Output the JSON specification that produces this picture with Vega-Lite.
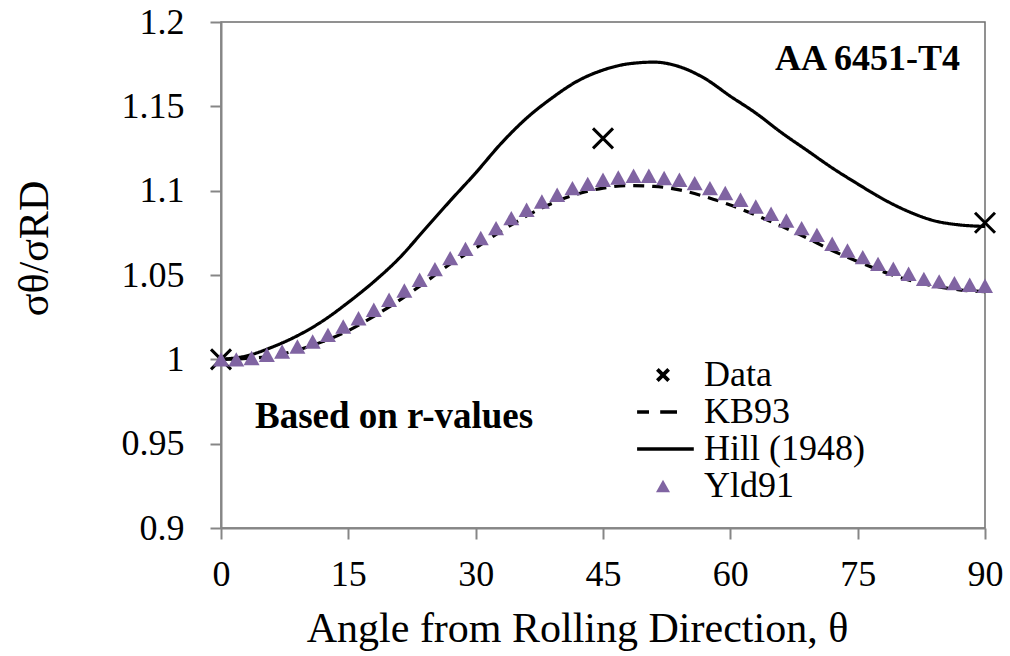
{
  "$schema": "https://vega.github.io/schema/vega-lite/v6.json",
  "width": 764,
  "height": 506,
  "autosize": "none",
  "padding": {"left": 221, "top": 22, "right": 25, "bottom": 128},
  "background": "white",
  "config": {
    "font": "Liberation Serif",
    "view": {"stroke": "#6e6e6e", "strokeWidth": 1.5},
    "axis": {
      "grid": false,
      "domainColor": "#868686",
      "domainWidth": 2,
      "tickColor": "#868686",
      "tickWidth": 2,
      "tickSize": 11,
      "labelFont": "Liberation Serif",
      "labelFontSize": 36,
      "labelColor": "#000000",
      "labelFlush": false,
      "labelOverlap": false,
      "titleFont": "Liberation Serif",
      "titleFontSize": 42,
      "titleFontWeight": "normal",
      "titleColor": "#000000"
    },
    "legend": {"labelFont": "Liberation Serif"}
  },
  "data": {
    "values": [
      {"series": "Data", "angle": 0, "ratio": 1.0},
      {"series": "Data", "angle": 45, "ratio": 1.131},
      {"series": "Data", "angle": 90, "ratio": 1.081},

      {"series": "Hill (1948)", "angle": 0, "ratio": 1.0},
      {"series": "Hill (1948)", "angle": 3, "ratio": 1.002},
      {"series": "Hill (1948)", "angle": 6, "ratio": 1.0072},
      {"series": "Hill (1948)", "angle": 9, "ratio": 1.014},
      {"series": "Hill (1948)", "angle": 12, "ratio": 1.0228},
      {"series": "Hill (1948)", "angle": 15, "ratio": 1.0338},
      {"series": "Hill (1948)", "angle": 18, "ratio": 1.046},
      {"series": "Hill (1948)", "angle": 21, "ratio": 1.06},
      {"series": "Hill (1948)", "angle": 24, "ratio": 1.077},
      {"series": "Hill (1948)", "angle": 27, "ratio": 1.094},
      {"series": "Hill (1948)", "angle": 30, "ratio": 1.1105},
      {"series": "Hill (1948)", "angle": 33, "ratio": 1.128},
      {"series": "Hill (1948)", "angle": 36, "ratio": 1.143},
      {"series": "Hill (1948)", "angle": 39, "ratio": 1.155},
      {"series": "Hill (1948)", "angle": 42, "ratio": 1.165},
      {"series": "Hill (1948)", "angle": 45, "ratio": 1.1715},
      {"series": "Hill (1948)", "angle": 48, "ratio": 1.1752},
      {"series": "Hill (1948)", "angle": 51, "ratio": 1.1762},
      {"series": "Hill (1948)", "angle": 54, "ratio": 1.1735},
      {"series": "Hill (1948)", "angle": 57, "ratio": 1.1665},
      {"series": "Hill (1948)", "angle": 60, "ratio": 1.156},
      {"series": "Hill (1948)", "angle": 63, "ratio": 1.146},
      {"series": "Hill (1948)", "angle": 66, "ratio": 1.1345},
      {"series": "Hill (1948)", "angle": 69, "ratio": 1.124},
      {"series": "Hill (1948)", "angle": 72, "ratio": 1.1135},
      {"series": "Hill (1948)", "angle": 75, "ratio": 1.104},
      {"series": "Hill (1948)", "angle": 78, "ratio": 1.095},
      {"series": "Hill (1948)", "angle": 81, "ratio": 1.0876},
      {"series": "Hill (1948)", "angle": 84, "ratio": 1.0822},
      {"series": "Hill (1948)", "angle": 87, "ratio": 1.0797},
      {"series": "Hill (1948)", "angle": 90, "ratio": 1.0788},

      {"series": "KB93", "angle": 0, "ratio": 1.0},
      {"series": "KB93", "angle": 3, "ratio": 1.0005},
      {"series": "KB93", "angle": 6, "ratio": 1.002},
      {"series": "KB93", "angle": 9, "ratio": 1.0055},
      {"series": "KB93", "angle": 12, "ratio": 1.0105},
      {"series": "KB93", "angle": 15, "ratio": 1.017},
      {"series": "KB93", "angle": 18, "ratio": 1.0255},
      {"series": "KB93", "angle": 21, "ratio": 1.035},
      {"series": "KB93", "angle": 24, "ratio": 1.0455},
      {"series": "KB93", "angle": 27, "ratio": 1.0565},
      {"series": "KB93", "angle": 30, "ratio": 1.066},
      {"series": "KB93", "angle": 33, "ratio": 1.076},
      {"series": "KB93", "angle": 36, "ratio": 1.085},
      {"series": "KB93", "angle": 39, "ratio": 1.0925},
      {"series": "KB93", "angle": 42, "ratio": 1.098},
      {"series": "KB93", "angle": 45, "ratio": 1.1015},
      {"series": "KB93", "angle": 48, "ratio": 1.103},
      {"series": "KB93", "angle": 51, "ratio": 1.1025},
      {"series": "KB93", "angle": 54, "ratio": 1.1005},
      {"series": "KB93", "angle": 57, "ratio": 1.0965},
      {"series": "KB93", "angle": 60, "ratio": 1.0915},
      {"series": "KB93", "angle": 63, "ratio": 1.0855},
      {"series": "KB93", "angle": 66, "ratio": 1.079},
      {"series": "KB93", "angle": 69, "ratio": 1.072},
      {"series": "KB93", "angle": 72, "ratio": 1.0645},
      {"series": "KB93", "angle": 75, "ratio": 1.058},
      {"series": "KB93", "angle": 78, "ratio": 1.052},
      {"series": "KB93", "angle": 81, "ratio": 1.047},
      {"series": "KB93", "angle": 84, "ratio": 1.0435},
      {"series": "KB93", "angle": 87, "ratio": 1.0412},
      {"series": "KB93", "angle": 90, "ratio": 1.0402},

      {"series": "Yld91", "angle": 0, "ratio": 1.0},
      {"series": "Yld91", "angle": 1.8, "ratio": 1.0},
      {"series": "Yld91", "angle": 3.6, "ratio": 1.0008},
      {"series": "Yld91", "angle": 5.4, "ratio": 1.0027},
      {"series": "Yld91", "angle": 7.2, "ratio": 1.0046},
      {"series": "Yld91", "angle": 9.0, "ratio": 1.0076},
      {"series": "Yld91", "angle": 10.8, "ratio": 1.0106},
      {"series": "Yld91", "angle": 12.6, "ratio": 1.0145},
      {"series": "Yld91", "angle": 14.4, "ratio": 1.0195},
      {"series": "Yld91", "angle": 16.2, "ratio": 1.0244},
      {"series": "Yld91", "angle": 18.0, "ratio": 1.0294},
      {"series": "Yld91", "angle": 19.8, "ratio": 1.0353},
      {"series": "Yld91", "angle": 21.6, "ratio": 1.0408},
      {"series": "Yld91", "angle": 23.4, "ratio": 1.0472},
      {"series": "Yld91", "angle": 25.2, "ratio": 1.0535},
      {"series": "Yld91", "angle": 27.0, "ratio": 1.06},
      {"series": "Yld91", "angle": 28.8, "ratio": 1.0655},
      {"series": "Yld91", "angle": 30.6, "ratio": 1.0719},
      {"series": "Yld91", "angle": 32.4, "ratio": 1.0778},
      {"series": "Yld91", "angle": 34.2, "ratio": 1.0837},
      {"series": "Yld91", "angle": 36.0, "ratio": 1.0887},
      {"series": "Yld91", "angle": 37.8, "ratio": 1.0936},
      {"series": "Yld91", "angle": 39.6, "ratio": 1.0976},
      {"series": "Yld91", "angle": 41.4, "ratio": 1.1015},
      {"series": "Yld91", "angle": 43.2, "ratio": 1.104},
      {"series": "Yld91", "angle": 45.0, "ratio": 1.1065},
      {"series": "Yld91", "angle": 46.8, "ratio": 1.1078},
      {"series": "Yld91", "angle": 48.6, "ratio": 1.1088},
      {"series": "Yld91", "angle": 50.4, "ratio": 1.1088},
      {"series": "Yld91", "angle": 52.2, "ratio": 1.1075},
      {"series": "Yld91", "angle": 54.0, "ratio": 1.1065},
      {"series": "Yld91", "angle": 55.8, "ratio": 1.1045},
      {"series": "Yld91", "angle": 57.6, "ratio": 1.1015},
      {"series": "Yld91", "angle": 59.4, "ratio": 1.0986},
      {"series": "Yld91", "angle": 61.2, "ratio": 1.0946},
      {"series": "Yld91", "angle": 63.0, "ratio": 1.0906},
      {"series": "Yld91", "angle": 64.8, "ratio": 1.0863},
      {"series": "Yld91", "angle": 66.6, "ratio": 1.0823},
      {"series": "Yld91", "angle": 68.4, "ratio": 1.0778},
      {"series": "Yld91", "angle": 70.2, "ratio": 1.0738},
      {"series": "Yld91", "angle": 72.0, "ratio": 1.0685},
      {"series": "Yld91", "angle": 73.8, "ratio": 1.0645},
      {"series": "Yld91", "angle": 75.6, "ratio": 1.0606},
      {"series": "Yld91", "angle": 77.4, "ratio": 1.0566},
      {"series": "Yld91", "angle": 79.2, "ratio": 1.0537},
      {"series": "Yld91", "angle": 81.0, "ratio": 1.0507},
      {"series": "Yld91", "angle": 82.8, "ratio": 1.0477},
      {"series": "Yld91", "angle": 84.6, "ratio": 1.0462},
      {"series": "Yld91", "angle": 86.4, "ratio": 1.0452},
      {"series": "Yld91", "angle": 88.2, "ratio": 1.0442},
      {"series": "Yld91", "angle": 90.0, "ratio": 1.0436}
    ]
  },
  "encoding": {
    "x": {
      "field": "angle",
      "type": "quantitative",
      "scale": {"domain": [0, 90], "nice": false, "zero": false},
      "axis": {
        "values": [0, 15, 30, 45, 60, 75, 90],
        "labelPadding": 18,
        "title": "Angle from Rolling Direction, θ",
        "titlePadding": 16,
        "titleX": 356
      }
    },
    "y": {
      "field": "ratio",
      "type": "quantitative",
      "scale": {"domain": [0.9, 1.2], "nice": false, "zero": false},
      "axis": {
        "values": [0.9, 0.95, 1.0, 1.05, 1.1, 1.15, 1.2],
        "format": ".2~f",
        "labelPadding": 26,
        "title": "σθ/σRD",
        "titleX": -174,
        "titleY": 226,
        "titleAngle": -90,
        "titleAlign": "center",
        "titleBaseline": "alphabetic"
      }
    }
  },
  "layer": [
    {
      "transform": [{"filter": "datum.series === 'Data'"}],
      "mark": {"type": "point", "shape": "M-1,-1L1,1M-1,1L1,-1", "size": 400, "filled": false, "stroke": "#000000", "strokeWidth": 3, "opacity": 1}
    },
    {
      "transform": [{"filter": "datum.series === 'KB93' || datum.series === 'Hill (1948)'"}],
      "mark": {"type": "line", "color": "#000000", "strokeWidth": 3.2, "interpolate": "monotone"},
      "encoding": {
        "detail": {"field": "series", "type": "nominal"},
        "strokeDash": {
          "field": "series",
          "type": "nominal",
          "scale": {"domain": ["KB93", "Hill (1948)"], "range": [[11, 8], [1, 0]]},
          "legend": null
        }
      }
    },
    {
      "transform": [{"filter": "datum.series === 'Yld91'"}],
      "mark": {"type": "point", "size": 256, "filled": true, "opacity": 1, "strokeWidth": 0},
      "encoding": {
        "color": {
          "field": "series",
          "type": "nominal",
          "scale": {"domain": ["Data", "KB93", "Hill (1948)", "Yld91"], "range": ["#000000", "#000000", "#000000", "#8064A2"]},
          "legend": {
            "orient": "none",
            "legendX": 424,
            "legendY": 335,
            "title": null,
            "padding": 0,
            "symbolSize": 196,
            "symbolStrokeWidth": 0,
            "labelFont": "Liberation Serif",
            "labelFontSize": 36,
            "labelColor": "#000000",
            "labelOffset": 23,
            "labelLimit": 0,
            "rowPadding": 1
          }
        },
        "shape": {
          "field": "series",
          "type": "nominal",
          "scale": {
            "domain": ["Data", "KB93", "Hill (1948)", "Yld91"],
            "range": [
              "M0,-0.38L0.62,-1L1,-0.62L0.38,0L1,0.62L0.62,1L0,0.38L-0.62,1L-1,0.62L-0.38,0L-1,-0.62L-0.62,-1Z",
              "M-3.7,-0.25L-2,-0.25L-2,0.25L-3.7,0.25ZM-0.4,-0.25L2,-0.25L2,0.25L-0.4,0.25Z",
              "M-3.7,-0.25L4.4,-0.25L4.4,0.25L-3.7,0.25Z",
              "M0,-0.9L1,0.9L-1,0.9Z"
            ]
          },
          "legend": {
            "orient": "none",
            "legendX": 424,
            "legendY": 335,
            "title": null,
            "padding": 0,
            "symbolSize": 196,
            "symbolStrokeWidth": 0,
            "labelFont": "Liberation Serif",
            "labelFontSize": 36,
            "labelColor": "#000000",
            "labelOffset": 23,
            "labelLimit": 0,
            "rowPadding": 1
          }
        }
      }
    },
    {
      "transform": [{"filter": "datum.series === 'Data' && datum.angle === 0"}],
      "mark": {"type": "text", "align": "left", "baseline": "alphabetic", "font": "Liberation Serif", "fontSize": 37, "fontWeight": "bold", "color": "#000000"},
      "encoding": {
        "x": {"datum": 4.0, "type": "quantitative"},
        "y": {"datum": 0.9594, "type": "quantitative"},
        "text": {"value": "Based on r-values"}
      }
    },
    {
      "transform": [{"filter": "datum.series === 'Data' && datum.angle === 90"}],
      "mark": {"type": "text", "align": "right", "baseline": "alphabetic", "font": "Liberation Serif", "fontSize": 36, "fontWeight": "bold", "color": "#000000"},
      "encoding": {
        "x": {"datum": 87.05, "type": "quantitative"},
        "y": {"datum": 1.1717, "type": "quantitative"},
        "text": {"value": "AA 6451-T4"}
      }
    }
  ]
}
